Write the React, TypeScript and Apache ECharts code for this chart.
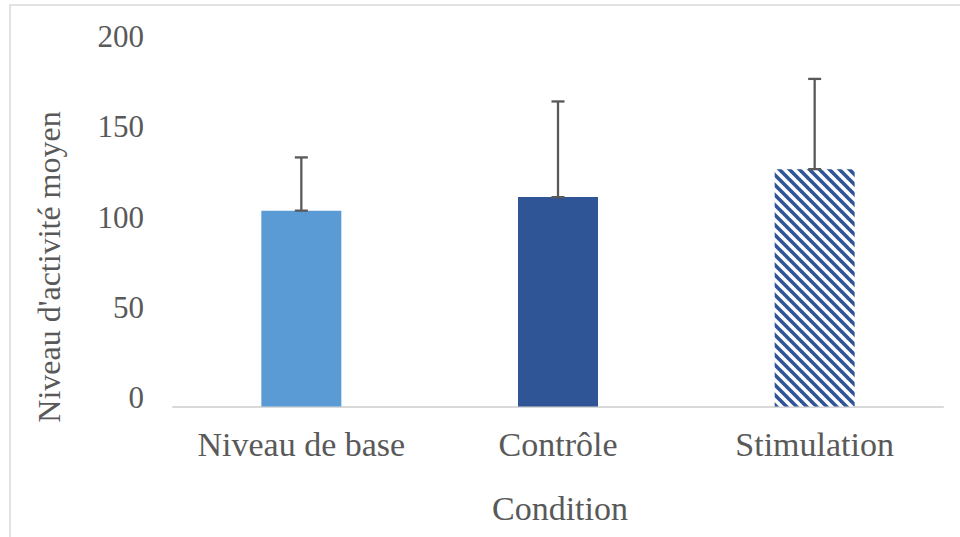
import React, { useEffect, useRef } from "react";
import * as echarts from "echarts";

const categories = ["Niveau de base", "Contrôle", "Stimulation"];
const means = [108.5, 116, 131.5];
const errors = [29.5, 53, 50];
const yTicks = { min: 0, max: 200, interval: 50 };
const xTitle = "Condition";
const yTitle = "Niveau d'activité moyen";

const TEXT = "#595959";
const FONT = "'Liberation Serif', 'DejaVu Serif', serif";

function makeStripes(): HTMLCanvasElement {
  const c = document.createElement("canvas");
  c.width = 10;
  c.height = 10;
  const ctx = c.getContext("2d")!;
  ctx.fillStyle = "#ffffff";
  ctx.fillRect(0, 0, 10, 10);
  ctx.strokeStyle = "#2F5597";
  ctx.lineWidth = 3.6;
  for (let k = -1; k <= 1; k++) {
    ctx.beginPath();
    ctx.moveTo(-2, -2 + k * 10);
    ctx.lineTo(12, 12 + k * 10);
    ctx.stroke();
  }
  return c;
}

export default function App() {
  const ref = useRef<HTMLDivElement>(null);
  useEffect(() => {
    if (!ref.current) return;
    const chart = echarts.init(ref.current, undefined, { renderer: "svg" });
    const stripes = makeStripes();
    const colors: any[] = ["#5B9BD5", "#2F5597", { image: stripes, repeat: "repeat" }];
    chart.setOption({
      animation: false,
      backgroundColor: "#ffffff",
      grid: { left: 173, right: 17, top: 45.5, bottom: 130.5 },
      xAxis: {
        type: "category",
        data: categories,
        axisLine: { lineStyle: { color: "#D9D9D9", width: 2 } },
        axisTick: { show: false },
        axisLabel: { color: TEXT, fontFamily: FONT, fontSize: 34, margin: 21, interval: 0 },
      },
      yAxis: {
        type: "value",
        min: yTicks.min,
        max: yTicks.max,
        interval: yTicks.interval,
        axisLine: { show: false },
        axisTick: { show: false },
        splitLine: { show: false },
        axisLabel: {
          color: TEXT,
          fontFamily: FONT,
          fontSize: 31,
          margin: 29,
          verticalAlign: "bottom",
          lineHeight: 18,
        },
      },
      graphic: [
        {
          type: "rect",
          shape: { x: 10, y: 5, width: 1000, height: 600 },
          style: { fill: "none", stroke: "#D9D9D9", lineWidth: 1.5 },
          silent: true,
        },
        {
          type: "text",
          x: 49,
          y: 267,
          rotation: Math.PI / 2,
          style: {
            text: yTitle,
            fill: TEXT,
            font: `32px ${FONT}`,
            align: "center",
            verticalAlign: "middle",
          },
        },
        {
          type: "text",
          x: 560,
          y: 508.5,
          style: {
            text: xTitle,
            fill: TEXT,
            font: `34px ${FONT}`,
            align: "center",
            verticalAlign: "middle",
          },
        },
      ],
      series: [
        {
          type: "bar",
          barWidth: 80,
          data: means.map((v, i) => ({ value: v, itemStyle: { color: colors[i] } })),
        },
        {
          type: "custom",
          data: means.map((m, i) => [i, m, errors[i]]),
          renderItem: (params: any, api: any) => {
            const i = api.value(0);
            const m = api.value(1);
            const e = api.value(2);
            const p0 = api.coord([i, m]);
            const p1 = api.coord([i, m + e]);
            const hw = 6.5;
            const style = { stroke: "#595959", lineWidth: 2.3 };
            return {
              type: "group",
              children: [
                { type: "line", shape: { x1: p0[0], y1: p0[1], x2: p1[0], y2: p1[1] }, style },
                { type: "line", shape: { x1: p1[0] - hw, y1: p1[1], x2: p1[0] + hw, y2: p1[1] }, style },
                { type: "line", shape: { x1: p0[0] - hw, y1: p0[1], x2: p0[0] + hw, y2: p0[1] }, style },
              ],
            };
          },
          z: 10,
        },
      ],
    });
    return () => chart.dispose();
  }, []);
  return <div ref={ref} style={{ width: 960, height: 537, position: "absolute", left: 0, top: 0 }} />;
}
